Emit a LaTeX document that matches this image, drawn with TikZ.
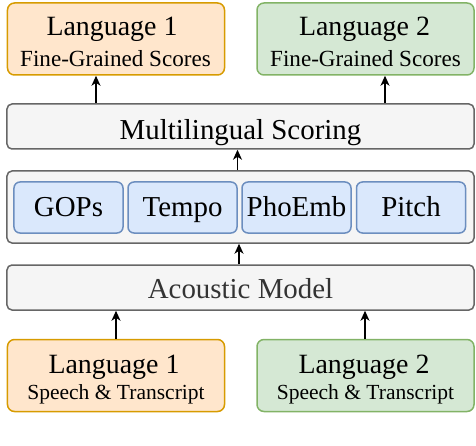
\documentclass[tikz,border=0pt]{standalone}
\usepackage{fontspec}
\setmainfont{Liberation Serif}
\usetikzlibrary{arrows.meta}
\definecolor{orfill}{HTML}{FFE6CC}
\definecolor{ordraw}{HTML}{D79B00}
\definecolor{grfill}{HTML}{D5E8D4}
\definecolor{grdraw}{HTML}{82B366}
\definecolor{gyfill}{HTML}{F5F5F5}
\definecolor{gydraw}{HTML}{666666}
\definecolor{blfill}{HTML}{DAE8FC}
\definecolor{bldraw}{HTML}{6C8EBF}
\definecolor{gytext}{HTML}{333333}
\tikzset{
  box/.style={rectangle, rounded corners=7bp, line width=1.5bp, inner sep=0pt},
  obox/.style={box, fill=orfill, draw=ordraw, minimum width=217bp, minimum height=72bp},
  gbox/.style={box, fill=grfill, draw=grdraw, minimum width=217bp, minimum height=72bp},
  graybox/.style={box, fill=gyfill, draw=gydraw, rounded corners=5bp},
  featbox/.style={box, fill=blfill, draw=bldraw, rounded corners=6bp, minimum width=109bp, minimum height=51bp, text height=24bp, text depth=5bp, font=\fontsize{29}{30}\selectfont},
  bigtxt/.style={anchor=base, inner sep=0pt, font=\fontsize{28}{30}\selectfont},
  smalltxt/.style={anchor=base, inner sep=0pt, font=\fontsize{21.6}{24}\selectfont},
  arr/.style={line width=1.3bp, -{Stealth[length=10bp, width=9bp, inset=3bp]}},
}
\begin{document}
\begin{tikzpicture}[x=1bp, y=-1bp]
\useasboundingbox (0,0) rectangle (476,446);
% top output boxes
\node[obox] (out1) at (116,39) {};
\node[gbox] (out2) at (365.5,39) {};
\node[bigtxt] (out1a) at (112,36) {Language 1};
\node[smalltxt, font=\fontsize{23.2}{24}\selectfont] (out1b) at (115.5,67) {Fine-Grained Scores};
\node[bigtxt] (out2a) at (364.5,36) {Language 2};
\node[smalltxt, font=\fontsize{23.2}{24}\selectfont] (out2b) at (365.5,67) {Fine-Grained Scores};
% multilingual scoring
\node[graybox, minimum width=467bp, minimum height=45bp, text height=30bp, text depth=3bp, font=\fontsize{29}{30}\selectfont] (ml) at (240.5,126.5) {Multilingual Scoring};
% features
\node[graybox, minimum width=467bp, minimum height=72bp] (feat) at (240.5,207) {};
\node[featbox] (gops) at (68.5,207.5) {GOPs};
\node[featbox] (tempo) at (182.5,207.5) {Tempo};
\node[featbox] (phoemb) at (296.5,207.5) {PhoEmb};
\node[featbox] (pitch) at (411,207.5) {Pitch};
% acoustic model
\node[graybox, minimum width=467bp, minimum height=45bp, text=gytext, text height=26bp, text depth=5bp, font=\fontsize{29}{30}\selectfont] (am) at (240.5,287.5) {Acoustic Model};
% bottom input boxes
\node[obox] (in1) at (116,375.5) {};
\node[gbox] (in2) at (365.5,375.5) {};
\node[bigtxt] (in1a) at (114,373) {Language 1};
\node[smalltxt] (in1b) at (116,399) {Speech \& Transcript};
\node[bigtxt] (in2a) at (364,373) {Language 2};
\node[smalltxt] (in2b) at (365.5,399) {Speech \& Transcript};
% arrow x positions
\coordinate (xa) at (96,0);
\coordinate (xb) at (385,0);
\coordinate (xc) at (237.5,0);
\coordinate (xd) at (239,0);
\coordinate (xe) at (116,0);
\coordinate (xf) at (365,0);
% connectors
\draw[arr] (ml.north -| xa) -- (out1.south -| xa);
\draw[arr] (ml.north -| xb) -- (out2.south -| xb);
\draw[arr] (feat.north -| xc) -- (ml.south -| xc);
\draw[arr] (am.north -| xd) -- (feat.south -| xd);
\draw[arr] (in1.north -| xe) -- (am.south -| xe);
\draw[arr] (in2.north -| xf) -- (am.south -| xf);
\end{tikzpicture}
\end{document}
